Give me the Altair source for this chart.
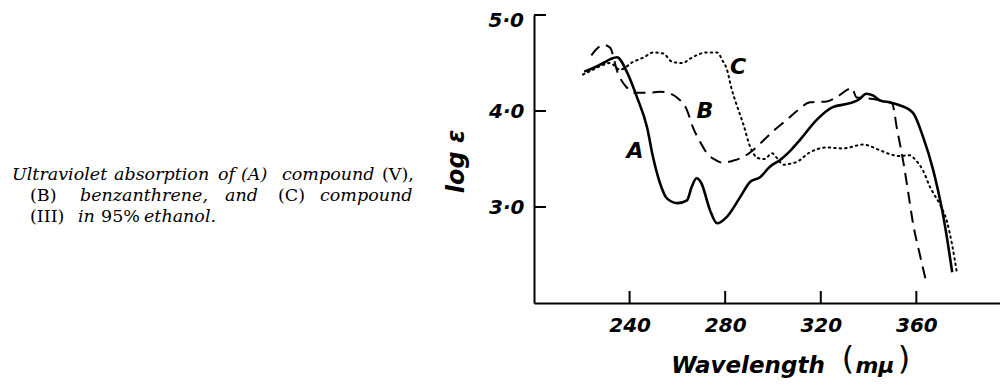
import altair as alt
import pandas as pd

# ---- data ----
a_wl = [221, 225, 229, 232, 234.7, 239, 243, 247.3, 249.8, 252.7, 255.6, 260, 264, 266, 268, 270,
        273.6, 276.6, 280.8, 286.2, 290.4, 294.6, 298.7, 303, 307, 311.3, 318.4, 325, 332, 336,
        339, 342, 344.8, 349, 353, 358.6, 362.8, 367, 369, 371, 373, 375]
a_val = [4.41, 4.45, 4.50, 4.54, 4.56, 4.40, 4.15, 3.83, 3.52, 3.25, 3.09, 3.04, 3.07, 3.21, 3.30, 3.25,
         2.97, 2.83, 2.90, 3.10, 3.26, 3.31, 3.42, 3.49, 3.58, 3.70, 3.91, 4.04, 4.08, 4.12,
         4.18, 4.16, 4.11, 4.09, 4.06, 3.98, 3.73, 3.39, 3.18, 2.94, 2.65, 2.32]

b_wl = [224, 226, 228.9, 231.8, 235, 239, 242, 248, 252.7, 256, 259.8, 264, 266.5, 269.5, 272.4,
        276, 279, 283, 287.5, 292, 297.5, 301, 305.9, 310, 315.5, 322.6, 327, 331, 333, 335,
        340, 345, 349.8, 352, 354.6, 356.6, 358.6, 361.5, 364.4]
b_val = [4.58, 4.64, 4.69, 4.66, 4.40, 4.24, 4.19, 4.19, 4.20, 4.19, 4.14, 4.01, 3.83, 3.68, 3.56,
         3.49, 3.46, 3.48, 3.52, 3.60, 3.73, 3.81, 3.91, 4.00, 4.09, 4.10, 4.15, 4.22, 4.24, 4.14,
         4.13, 4.11, 4.08, 3.80, 3.46, 3.15, 2.83, 2.50, 2.19]

c_wl = [220.5, 224.7, 228, 231.8, 236, 241.4, 246, 250, 254, 258, 262.3, 265, 268, 272, 276.6,
        279, 280.5, 282.8, 285, 287.5, 290.4, 293.7, 296.5, 299.6, 302, 304.2, 307, 310, 315.5,
        322.6, 329.3, 337.7, 344.8, 349, 353, 357, 360, 362.8, 365.7, 367, 370, 372.8, 375, 377]
c_val = [4.38, 4.43, 4.47, 4.50, 4.43, 4.51, 4.56, 4.61, 4.60, 4.51, 4.50, 4.54, 4.58, 4.61, 4.61,
         4.52, 4.45, 4.22, 4.05, 3.87, 3.63, 3.51, 3.50, 3.56, 3.50, 3.44, 3.45, 3.47, 3.57,
         3.62, 3.61, 3.65, 3.59, 3.55, 3.53, 3.54, 3.48, 3.38, 3.21, 3.15, 3.02, 2.85, 2.60, 2.31]

curve_labels = ["A", "B", "C"]
label_wl = [242.3, 271.5, 285.4]
label_val = [3.58, 4.00, 4.46]

x_ticks = [240, 280, 320, 360]
y_ticks = [3, 4, 5]
y_axis_labels = [3, 4]
y_top_label = 5

caption_words = [
    ("Ultraviolet", 1, "italic"), ("absorption", 1, "italic"), ("of", 1, "italic"),
    ("(A)", 1, "italic"), ("compound", 1, "italic"), ("(V),", 1, "normal"),
    ("(B)", 2, "normal"), ("benzanthrene,", 2, "italic"), ("and", 2, "italic"),
    ("(C)", 2, "normal"), ("compound", 2, "italic"),
    ("(III)", 3, "normal"), ("in", 3, "italic"), ("95%", 3, "normal"), ("ethanol.", 3, "italic"),
]
caption_x = [12, 114, 218, 241, 282, 382, 30, 80, 225, 278, 320, 30, 78, 101, 144]
line_y = {1: 180, 2: 201, 3: 222}

W, H = 466, 288
OX, OY = 534, 15
XDOM = [200, 395]
YDOM = [2, 5]

df_a = pd.DataFrame({"wl": a_wl, "v": a_val, "o": range(len(a_wl))})
df_b = pd.DataFrame({"wl": b_wl, "v": b_val, "o": range(len(b_wl))})
df_c = pd.DataFrame({"wl": c_wl, "v": c_val, "o": range(len(c_wl))})

LAB_FONT = "DejaVu Sans"
CAP_FONT = "DejaVu Serif"

xs = alt.Scale(domain=XDOM, nice=False, zero=False)
ys = alt.Scale(domain=YDOM, nice=False, zero=False)

x_axis = alt.Axis(values=x_ticks, ticks=False, grid=False, domainColor="black", domainWidth=2,
                  labelFont=LAB_FONT, labelFontSize=20, labelFontStyle="italic", labelFontWeight="bold",
                  labelColor="black", labelPadding=12, title=None, labelFlush=False)
y_axis = alt.Axis(values=y_axis_labels, ticks=False, grid=False, domainColor="black", domainWidth=2,
                  labelFont=LAB_FONT, labelFontSize=20, labelFontStyle="italic", labelFontWeight="bold",
                  labelColor="black", labelPadding=10,
                  labelExpr="replace(format(datum.value, '.1f'), '.', '·')",
                  title="log  ε", titleFont=LAB_FONT, titleFontSize=24, titleFontStyle="italic",
                  titleFontWeight="bold", titleColor="black", titleAngle=270, titleX=-78, titleY=146,
                  titleAlign="center", titleBaseline="middle")

base_a = alt.Chart(df_a).mark_line(color="black", strokeWidth=2.6, interpolate="monotone").encode(
    x=alt.X("wl:Q", scale=xs, axis=x_axis), y=alt.Y("v:Q", scale=ys, axis=y_axis), order="o:Q")
line_b = alt.Chart(df_b).mark_line(color="black", strokeWidth=2.0, strokeDash=[12, 7],
                                   interpolate="monotone").encode(
    x=alt.X("wl:Q", scale=xs), y=alt.Y("v:Q", scale=ys), order="o:Q")
line_c = alt.Chart(df_c).mark_line(color="black", strokeWidth=2.0, strokeDash=[1.5, 4],
                                   strokeCap="round", interpolate="monotone").encode(
    x=alt.X("wl:Q", scale=xs), y=alt.Y("v:Q", scale=ys), order="o:Q")

df_lab = pd.DataFrame({"t": curve_labels, "wl": label_wl, "v": label_val})
labels = alt.Chart(df_lab).mark_text(font=LAB_FONT, fontSize=22, fontStyle="italic", fontWeight="bold",
                                     color="black").encode(
    x=alt.X("wl:Q", scale=xs), y=alt.Y("v:Q", scale=ys), text="t:N")

top_label = alt.Chart(pd.DataFrame({"v": [y_top_label]})).transform_calculate(
    lbl="replace(format(datum.v, '.1f'), '.', '·')").mark_text(
    font=LAB_FONT, fontSize=20, fontStyle="italic", fontWeight="bold", color="black",
    align="right", baseline="middle", dx=-10, dy=6).encode(
    y=alt.Y("v:Q", scale=ys), x=alt.value(0), text="lbl:N")

ytick_rules = alt.Chart(pd.DataFrame({"v": y_ticks})).mark_rule(color="black", strokeWidth=2).encode(
    y=alt.Y("v:Q", scale=ys), x=alt.value(0), x2=alt.value(12))
xtick_rules = alt.Chart(pd.DataFrame({"wl": x_ticks})).mark_rule(color="black", strokeWidth=2).encode(
    x=alt.X("wl:Q", scale=xs), y=alt.value(H), y2=alt.value(H - 12))

layers = [base_a, line_b, line_c, labels, top_label, ytick_rules, xtick_rules]


def text_layer(t, px, py, size, font, style="normal", weight="normal", align="left", baseline="alphabetic"):
    return alt.Chart(pd.DataFrame({"t": [t]})).mark_text(
        font=font, fontSize=size, fontStyle=style, fontWeight=weight, color="black",
        align=align, baseline=baseline).encode(text="t:N", x=alt.value(px), y=alt.value(py))


layers.append(text_layer("Wavelength", 748 - OX, 366 - OY, 23, LAB_FONT, "italic", "bold", "center", "middle"))
layers.append(text_layer("(", 848 - OX, 359 - OY, 32, LAB_FONT, "normal", "normal", "center", "middle"))
layers.append(text_layer("mμ", 875 - OX, 366 - OY, 22, LAB_FONT, "italic", "bold", "center", "middle"))
layers.append(text_layer(")", 904 - OX, 359 - OY, 32, LAB_FONT, "normal", "normal", "center", "middle"))

for (word, ln, st), cx in zip(caption_words, caption_x):
    layers.append(text_layer(word, cx - OX, line_y[ln] - OY, 17.5, CAP_FONT, st))

chart = alt.layer(*layers).properties(
    width=W, height=H,
    autosize=alt.AutoSizeParams(type="none"),
    padding={"left": OX - 8, "top": OY - 8, "right": 0, "bottom": 370 - (OY - 8) - H},
).configure_view(stroke=None)

chart.save("out.html", embed_options={"renderer": "svg", "actions": False})
